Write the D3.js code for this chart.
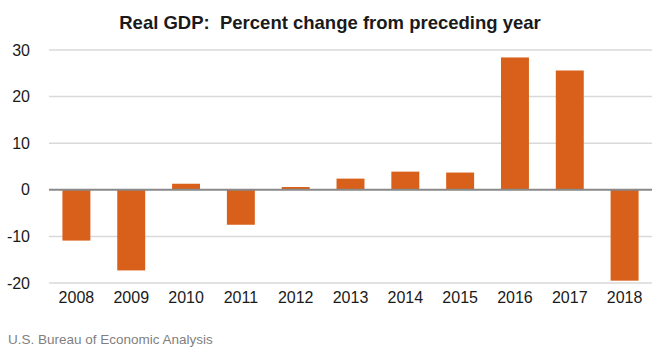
<!DOCTYPE html>
<html>
<head>
<meta charset="utf-8">
<script src="https://cdn.jsdelivr.net/npm/d3@7"></script>
<style>
  body { margin: 0; background: #fff; }
  text { font-family: "Liberation Sans", "DejaVu Sans", sans-serif; }
</style>
</head>
<body>
<div id="chart"></div>
<script>
// values
const years = ["2008", "2009", "2010", "2011", "2012", "2013", "2014", "2015", "2016", "2017", "2018"];
const pctChange = [-10.9, -17.3, 1.3, -7.5, 0.6, 2.4, 3.9, 3.7, 28.4, 25.6, -19.5];
const yTicks = [-20, -10, 0, 10, 20, 30];

const W = 660, H = 349;
const margin = {top: 50, right: 8, bottom: 66, left: 49};

const svg = d3.select("#chart").append("svg")
    .attr("width", W)
    .attr("height", H);

const x = d3.scaleBand()
    .domain(years)
    .range([margin.left, W - margin.right])
    .paddingInner(0.49)
    .paddingOuter(0.245);

const y = d3.scaleLinear()
    .domain([-20, 30])
    .range([H - margin.bottom, margin.top]);

// gridlines
svg.append("g")
    .selectAll("line")
    .data(yTicks.filter(d => d !== 0))
    .join("line")
    .attr("x1", margin.left)
    .attr("x2", W - margin.right)
    .attr("y1", d => y(d))
    .attr("y2", d => y(d))
    .attr("stroke", "#d9d9d9")
    .attr("stroke-width", 1.5);

// y tick labels
svg.append("g")
    .selectAll("text")
    .data(yTicks)
    .join("text")
    .attr("x", 30)
    .attr("y", d => y(d))
    .attr("dy", "0.35em")
    .attr("text-anchor", "end")
    .style("font-size", "16px")
    .style("fill", "#1a1a1a")
    .text(d => d);

// bars
svg.append("g")
    .selectAll("rect")
    .data(years)
    .join("rect")
    .attr("x", d => x(d))
    .attr("width", x.bandwidth())
    .attr("y", (d, i) => y(Math.max(0, pctChange[i])))
    .attr("height", (d, i) => Math.abs(y(pctChange[i]) - y(0)))
    .attr("fill", "#d9601a");

// zero line
svg.append("line")
    .attr("x1", margin.left)
    .attr("x2", W - margin.right)
    .attr("y1", y(0))
    .attr("y2", y(0))
    .attr("stroke", "#898989")
    .attr("stroke-width", 2);

// x labels
const xAxis = svg.append("g")
    .attr("transform", `translate(0,${y(-20) + 9})`)
    .call(d3.axisBottom(x).tickSize(0).tickPadding(0));
xAxis.select(".domain").remove();
xAxis.selectAll("text")
    .style("font-size", "16px")
    .style("font-family", "Liberation Sans, sans-serif")
    .style("fill", "#1a1a1a");

// title
svg.append("text")
    .attr("x", 330)
    .attr("y", 29)
    .attr("text-anchor", "middle")
    .style("font-size", "18.5px")
    .style("font-weight", "bold")
    .style("fill", "#1a1a1a")
    .text("Real GDP:  Percent change from preceding year")
    .attr("xml:space", "preserve");

// source
svg.append("text")
    .attr("x", 8)
    .attr("y", 344)
    .style("font-size", "13.5px")
    .style("fill", "#7f7f7f")
    .text("U.S. Bureau of Economic Analysis");
</script>
</body>
</html>
